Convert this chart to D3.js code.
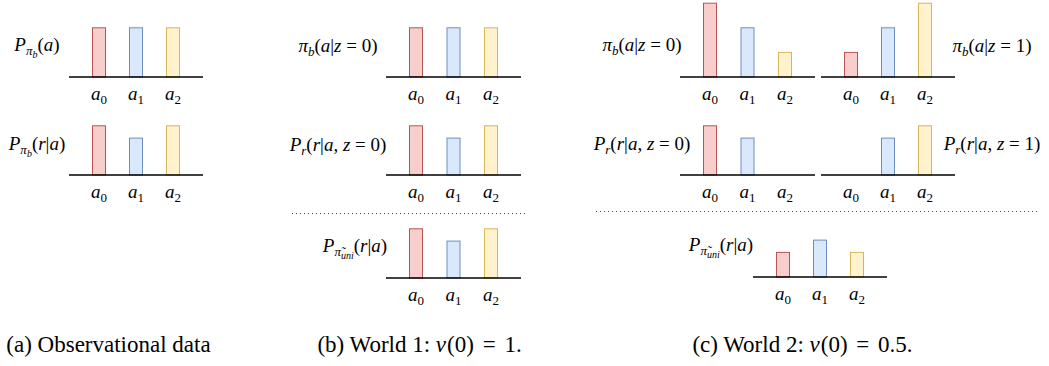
<!DOCTYPE html>
<html>
<head>
<meta charset="utf-8">
<script src="https://d3js.org/d3.v7.min.js"></script>
<style>
  body { margin: 0; background: #fff; }
  svg { display: block; }
</style>
</head>
<body>
<script>
// categories
var actions = ["a0", "a1", "a2"];
var actionSubs = ["0", "1", "2"];

// bar heights (relative units)
var obsPolicy   = [4, 4, 4];
var obsReward   = [4, 3, 4];
var w1Policy    = [4, 4, 4];
var w1Reward    = [4, 3, 4];
var w1Uniform   = [4, 3, 4];
var w2PolicyZ0  = [6, 4, 2];
var w2PolicyZ1  = [2, 4, 6];
var w2RewardZ0  = [4, 3, 0];
var w2RewardZ1  = [0, 3, 4];
var w2Uniform   = [2, 3, 2];

var fills   = ["#f8cecc", "#dae8fc", "#fff2cc"];
var strokes = ["#b85450", "#6c8ebf", "#d6b656"];
var serif = "'Liberation Serif'";

var width = 1049, height = 366;
var svg = d3.select("body").append("svg")
    .attr("width", width)
    .attr("height", height);

var y = d3.scaleLinear().domain([0, 6]).range([0, 73.8]);
var barW = 13;

// math labels as [text, kind] parts: i italic, r roman, s subscript, ss sub-sub
function mathText(x, yy, parts) {
  var t = svg.append("text")
      .style("font-family", serif).style("font-size", "19px").attr("fill", "#000")
      .attr("x", x).attr("y", yy)
      .attr("text-anchor", "middle");
  var level = 0;
  var shifts = [0, 4, 7];
  var sizes = [19, 13, 10];
  parts.forEach(function(p) {
    var kind = p[1];
    var newLevel = kind.indexOf("ss") === 0 ? 2 : (kind.indexOf("s") === 0 ? 1 : 0);
    t.append("tspan").text(p[0])
        .attr("dy", shifts[newLevel] - shifts[level])
        .style("font-size", sizes[newLevel] + "px")
        .style("font-style", kind.slice(-1) === "i" ? "italic" : "normal");
    level = newLevel;
  });
  return t;
}

function drawChart(x0, x1, base, values, ticks) {
  var x = d3.scalePoint().domain(actions).range([x0 + 30, x1 - 30]);
  var g = svg.append("g");
  g.selectAll("rect")
    .data(values.map(function(v, i) { return {a: actions[i], v: v, i: i}; })
      .filter(function(d) { return d.v > 0; }))
    .enter().append("rect")
      .attr("x", function(d) { return x(d.a) - barW / 2; })
      .attr("y", function(d) { return base - y(d.v); })
      .attr("width", barW)
      .attr("height", function(d) { return y(d.v); })
      .attr("fill", function(d) { return fills[d.i]; })
      .attr("stroke", function(d) { return strokes[d.i]; })
      .attr("stroke-width", 1);
  g.append("line")
      .attr("x1", x0).attr("x2", x1)
      .attr("y1", base).attr("y2", base)
      .attr("stroke", "#000").attr("stroke-width", 1.5);
  if (ticks) {
    actions.forEach(function(a, i) {
      mathText(x(a), base + 23, [["a", "i"], [actionSubs[i], "sr"]]);
    });
  }
}

function dotted(x0, x1, yy) {
  svg.append("line")
      .attr("x1", x0).attr("x2", x1)
      .attr("y1", yy).attr("y2", yy)
      .attr("stroke", "#444").attr("stroke-width", 1)
      .attr("stroke-dasharray", "1,3");
}

// (a) observational data
drawChart(69, 203, 77, obsPolicy, true);
drawChart(69, 203, 175, obsReward, true);
mathText(37, 51, [["P", "i"], ["π", "si"], ["b", "ssi"], ["(", "r"], ["a", "i"], [")", "r"]]);
mathText(37, 150, [["P", "i"], ["π", "si"], ["b", "ssi"], ["(", "r"], ["r", "i"], ["|", "r"], ["a", "i"], [")", "r"]]);

// (b) world 1
drawChart(386, 521, 77, w1Policy, true);
drawChart(386, 521, 175, w1Reward, true);
dotted(292, 525, 213.5);
drawChart(386, 521, 278, w1Uniform, true);
mathText(338, 52, [["π", "i"], ["b", "si"], ["(", "r"], ["a", "i"], ["|", "r"], ["z", "i"], [" = 0)", "r"]]);
mathText(338, 151, [["P", "i"], ["r", "si"], ["(", "r"], ["r", "i"], ["|", "r"], ["a", "i"], [", ", "r"], ["z", "i"], [" = 0)", "r"]]);
mathText(355, 252, [["P", "i"], ["π̃", "si"], ["uni", "ssi"], ["(", "r"], ["r", "i"], ["|", "r"], ["a", "i"], [")", "r"]]);

// (c) world 2
drawChart(680, 815, 77, w2PolicyZ0, true);
drawChart(821, 955, 77, w2PolicyZ1, true);
drawChart(680, 815, 175, w2RewardZ0, true);
drawChart(821, 955, 175, w2RewardZ1, true);
dotted(596, 1038, 211.5);
drawChart(753, 887, 277, w2Uniform, true);
mathText(642, 51, [["π", "i"], ["b", "si"], ["(", "r"], ["a", "i"], ["|", "r"], ["z", "i"], [" = 0)", "r"]]);
mathText(992, 52, [["π", "i"], ["b", "si"], ["(", "r"], ["a", "i"], ["|", "r"], ["z", "i"], [" = 1)", "r"]]);
mathText(642, 150, [["P", "i"], ["r", "si"], ["(", "r"], ["r", "i"], ["|", "r"], ["a", "i"], [", ", "r"], ["z", "i"], [" = 0)", "r"]]);
mathText(992, 150, [["P", "i"], ["r", "si"], ["(", "r"], ["r", "i"], ["|", "r"], ["a", "i"], [", ", "r"], ["z", "i"], [" = 1)", "r"]]);
mathText(721, 251, [["P", "i"], ["π̃", "si"], ["uni", "ssi"], ["(", "r"], ["r", "i"], ["|", "r"], ["a", "i"], [")", "r"]]);

// captions: [text, style, extra gap before]
function caption(x, parts) {
  var t = svg.append("text")
      .style("font-family", serif).style("font-size", "23px").attr("fill", "#000")
      .attr("x", x).attr("y", 352).attr("text-anchor", "middle");
  parts.forEach(function(p) {
    t.append("tspan").text(p[0])
        .attr("dx", p[2] || 0)
        .style("font-style", p[1] === "i" ? "italic" : "normal");
  });
}
caption(108.5, [["(a) Observational data", "r"]]);
caption(419.5, [["(b) World 1: ", "r"], ["ν", "i"], ["(0)", "r", 1], [" = ", "r", 3], ["1.", "r", 3]]);
caption(802.5, [["(c) World 2: ", "r"], ["ν", "i"], ["(0)", "r", 1], [" = ", "r", 3], ["0.5.", "r", 3]]);
</script>
</body>
</html>
